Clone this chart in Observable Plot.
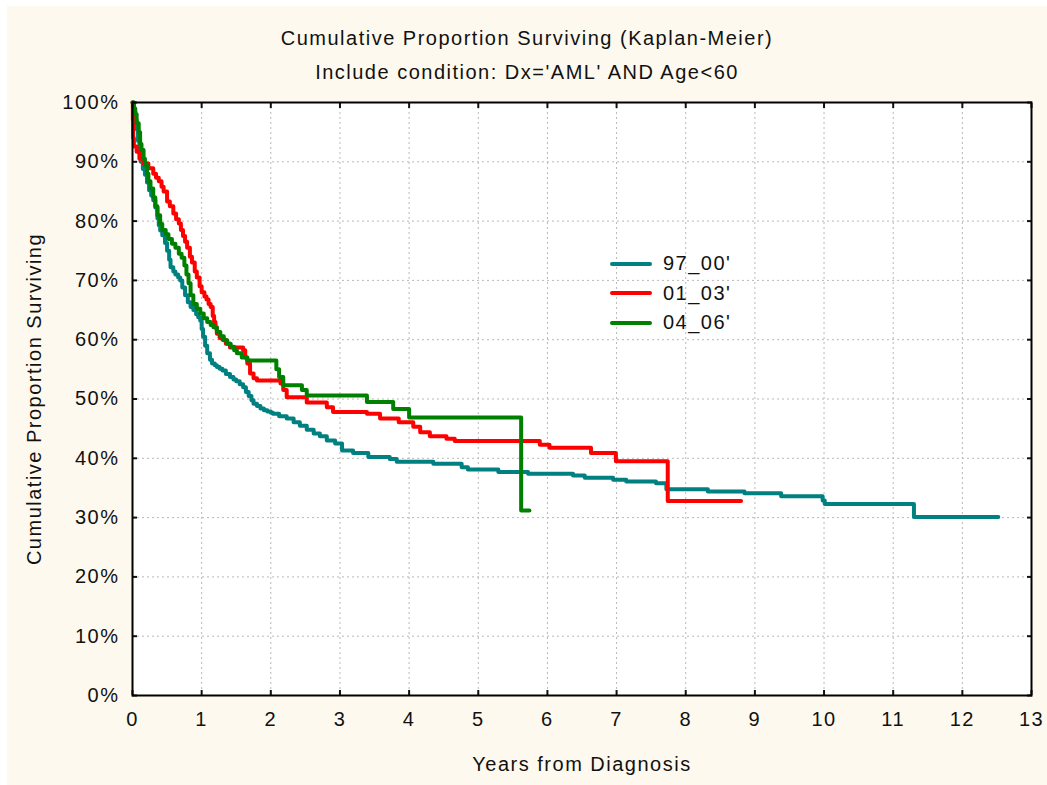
<!DOCTYPE html>
<html>
<head>
<meta charset="utf-8">
<script src="https://cdn.jsdelivr.net/npm/d3@7"></script>
<script src="https://cdn.jsdelivr.net/npm/@observablehq/plot@0.6"></script>
<style>
  body { margin: 0; background: #fff; font-family: "Liberation Sans", Arial, sans-serif; }
  #wrap { position: absolute; left: 7px; top: 6px; width: 1040px; height: 779px; background: #fef9ee; }
  #title { padding-top: 15px; text-align: center; font-size: 20px; letter-spacing: 1.5px; color: #111; }
  #title div { height: 34px; line-height: 34px; }
  #legend { position: absolute; left: 603px; top: 243px; font-size: 20px; letter-spacing: 1.5px; color: #111; }
  #legend .row { height: 29.5px; display: flex; align-items: center; }
  #legend .sw { width: 42px; height: 4px; border-radius: 2px; margin-right: 11px; }
</style>
</head>
<body>
<div id="wrap">
  <div id="title">
    <div>Cumulative Proportion Surviving (Kaplan-Meier)</div>
    <div>Include condition: Dx='AML' AND Age&lt;60</div>
  </div>
  <div id="chart"></div>
  <div id="legend"></div>
</div>
<script>
// groups (diagnosis period) and colours
const groups = ["97_00'", "01_03'", "04_06'"]
const colors = ["#008080", "#ff0000", "#008000"]

// 97_00' : years from diagnosis / cumulative proportion surviving (%)
const t9700 = [0, 0.02, 0.04, 0.06, 0.08, 0.1, 0.12, 0.15, 0.18, 0.21, 0.24, 0.27, 0.3, 0.33, 0.36, 0.38, 0.4, 0.43, 0.47, 0.5,
  0.53, 0.55, 0.59, 0.62, 0.66, 0.69, 0.72, 0.76, 0.8, 0.84, 0.88, 0.92, 0.95, 0.98, 1.0, 1.02, 1.05, 1.08, 1.12, 1.15,
  1.19, 1.22, 1.26, 1.3, 1.35, 1.41, 1.46, 1.5, 1.55, 1.6, 1.64, 1.68, 1.72, 1.75, 1.8, 1.85, 1.9, 1.95, 2.0, 2.03,
  2.12, 2.23, 2.33, 2.42, 2.52, 2.62, 2.71, 2.81, 2.93, 3.03, 3.19, 3.41, 3.72, 3.82, 4.35, 4.76, 4.85, 5.29, 5.72, 6.37,
  6.54, 6.95, 7.14, 7.57, 7.72, 8.32, 8.85, 9.38, 9.98, 10.01, 11.3, 12.52]
const s9700 = [100, 98.5, 97, 95.5, 93.5, 91.5, 90, 88.8, 87.8, 86.5, 85.2, 84.3, 83.5, 82.3, 80.5, 79.3, 78.4, 77.6, 76.3, 75,
  73.5, 72.2, 71.5, 71, 70.5, 70, 68.8, 67.5, 66.3, 65.5, 65, 64.3, 63.8, 63.2, 61.8, 60.5, 59, 57.7, 56.6, 56,
  55.7, 55.4, 55.1, 54.8, 54.2, 53.7, 53.3, 53, 52.5, 52, 51.2, 50.5, 49.8, 49.2, 48.8, 48.4, 48.1, 47.9, 47.7, 47.5,
  47.1, 46.7, 46.1, 45.5, 44.8, 44.2, 43.7, 43.0, 42.5, 41.3, 40.9, 40.2, 39.9, 39.4, 39.1, 38.5, 38.1, 37.7, 37.4, 37.1,
  36.7, 36.4, 36.1, 35.8, 34.8, 34.4, 34.1, 33.6, 32.9, 32.3, 30.1, 30.1]

// 01_03'
const t0103 = [0, 0.005, 0.01, 0.02, 0.06, 0.1, 0.16, 0.23, 0.3, 0.34, 0.38, 0.42, 0.45, 0.5, 0.54, 0.59, 0.63, 0.67, 0.7, 0.73,
  0.76, 0.79, 0.83, 0.86, 0.9, 0.93, 0.97, 1.0, 1.04, 1.07, 1.1, 1.13, 1.16, 1.18, 1.2, 1.22, 1.26, 1.3, 1.35, 1.41,
  1.6, 1.63, 1.66, 1.7, 1.75, 1.8, 2.14, 2.18, 2.23, 2.52, 2.81, 2.9, 3.39, 3.58, 3.85, 4.06, 4.16, 4.3, 4.54, 4.66,
  5.89, 6.03, 6.63, 6.99, 7.74, 8.8]
const s0103 = [100, 97, 94, 92.6, 91.7, 90.5, 89.7, 88.9, 88, 87.3, 86.7, 85.8, 85, 83.3, 82.5, 81.3, 80.3, 79.6, 78.5, 77.5,
  76.5, 75.5, 74, 73, 71.5, 70.5, 69, 68, 67.3, 66.8, 66, 65.5, 64, 63, 62, 61, 60.3, 60, 59.3, 58.7,
  58.2, 57, 56, 54.3, 53.5, 53.1, 52.6, 51.5, 50.3, 49.4, 48.6, 47.8, 47.5, 46.7, 46.1, 45.3, 44.4, 43.7, 43.3, 42.9,
  42.3, 41.8, 40.9, 39.5, 32.8, 32.8]

// 04_06'
const t0406 = [0, 0.02, 0.04, 0.06, 0.09, 0.11, 0.13, 0.16, 0.18, 0.21, 0.23, 0.26, 0.3, 0.33, 0.36, 0.4, 0.43, 0.48, 0.52, 0.57,
  0.62, 0.67, 0.71, 0.75, 0.78, 0.81, 0.84, 0.88, 0.93, 0.98, 1.03, 1.08, 1.13, 1.17, 1.22, 1.27, 1.32, 1.37, 1.42, 1.47,
  1.51, 1.58, 1.66, 2.08, 2.12, 2.18, 2.45, 2.52, 3.39, 3.77, 4.0, 5.62, 5.74]
const s0406 = [100, 99, 98, 96.5, 95, 93, 92, 90.5, 89.4, 88, 86.7, 85.5, 84, 82.5, 81, 79.5, 78.5, 77.8, 77, 76.2,
  75.5, 74.5, 73.8, 72.5, 71, 69.5, 67.5, 66, 65.2, 64.4, 63.6, 63, 62.5, 62.1, 61.3, 60.6, 59.9, 59.3, 58.8, 58.2,
  57.7, 57, 56.5, 55, 53.7, 52.3, 51.5, 50.6, 49.5, 48.3, 46.9, 31.2, 31.2]

// axis ticks
const xTicks = d3.range(0, 14)
const yTicks = d3.range(0, 101, 10)

const series = [[t9700, s9700], [t0103, s0103], [t0406, s0406]]
const data = series.flatMap(([t, s], i) => t.map((x, j) => ({group: groups[i], t: x, s: s[j]})))

const gridStyle = {stroke: "#b8b8b8", strokeOpacity: 1, strokeWidth: 1, strokeDasharray: "2,3"}
const tickStyle = {tickSize: -5, strokeWidth: 2, text: null, label: null}

const chart = Plot.plot({
  width: 1040,
  height: 696,
  marginLeft: 125,
  marginRight: 16,
  marginTop: 13,
  marginBottom: 90,
  style: {background: "transparent", fontFamily: "'Liberation Sans', Arial, sans-serif", fontSize: "20px", color: "#111", letterSpacing: "1.5px"},
  x: {domain: [0, 13]},
  y: {domain: [0, 100]},
  color: {domain: groups, range: colors},
  marks: [
    Plot.frame({fill: "white", stroke: null}),
    Plot.gridX(xTicks.slice(1, -1), gridStyle),
    Plot.gridY(yTicks.slice(1, -1), gridStyle),
    Plot.line(data, {x: "t", y: "s", z: "group", stroke: "group", strokeWidth: 4, curve: "step-after"}),
    Plot.axisX(xTicks, {anchor: "bottom", tickSize: 0, tickPadding: 16, label: "Years from Diagnosis", labelArrow: "none", labelAnchor: "center", labelOffset: 75}),
    Plot.axisY(yTicks, {anchor: "left", tickSize: 0, tickPadding: 13, tickFormat: d => d + "%", label: "Cumulative Proportion Surviving", labelArrow: "none", labelAnchor: "center", labelOffset: 106}),
    Plot.axisX(xTicks, {anchor: "bottom", ...tickStyle}),
    Plot.axisX(xTicks, {anchor: "top", ...tickStyle}),
    Plot.axisY(yTicks, {anchor: "left", ...tickStyle}),
    Plot.axisY(yTicks, {anchor: "right", ...tickStyle}),
    Plot.frame({stroke: "black", strokeWidth: 2})
  ]
})
d3.select("#chart").append(() => chart)

// legend inside the plot area
const legend = d3.select("#legend")
groups.forEach((g, i) => {
  const row = legend.append("div").attr("class", "row")
  row.append("div").attr("class", "sw").style("background", colors[i])
  row.append("span").text(g)
})
</script>
</body>
</html>
